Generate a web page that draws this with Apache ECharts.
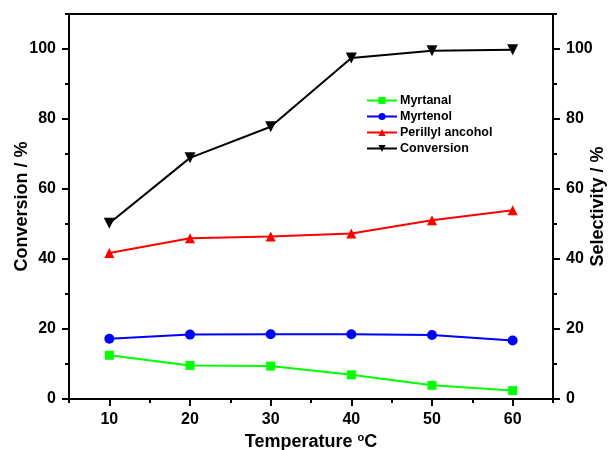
<!DOCTYPE html>
<html>
<head>
<meta charset="utf-8">
<script src="https://cdn.jsdelivr.net/npm/echarts@6/dist/echarts.min.js"></script>
<style>
  html, body { margin: 0; padding: 0; background: #fff; }
  #chart { width: 609px; height: 450px; }
</style>
</head>
<body>
<div id="chart"></div>
<script>
// Reaction temperature (°C)
const temperatures = [10, 20, 30, 40, 50, 60];
// Conversion (%)
const conversion = [50.2, 68.9, 77.8, 97.4, 99.5, 99.8];
// Product selectivities (%)
const myrtanal = [12.5, 9.6, 9.4, 6.9, 3.9, 2.4];
const myrtenol = [17.2, 18.4, 18.5, 18.5, 18.3, 16.7];
const perillylAlcohol = [41.7, 45.9, 46.4, 47.3, 51.1, 53.9];

const xMajorTicks = [10, 20, 30, 40, 50, 60];
const yMajorTicks = [0, 20, 40, 60, 80, 100];

const FONT = 'Liberation Sans, Arial, sans-serif';
const lineStyleAxis = { color: '#000', width: 2 };

function pairs(values) {
  return temperatures.map((t, i) => [t, values[i]]);
}

const chart = echarts.init(document.getElementById('chart'));

const minorX = {
  type: 'value', min: 5, max: 65, interval: 5, position: 'bottom', offset: 0,
  axisLine: { show: true, onZero: false, lineStyle: lineStyleAxis },
  axisTick: { show: true, length: 4, lineStyle: lineStyleAxis },
  axisLabel: { show: false },
  splitLine: { show: false }
};
const majorX = {
  type: 'value', min: 5, max: 65, interval: 5, position: 'bottom', offset: 0,
  axisLine: { show: false },
  axisTick: { show: true, length: 7, customValues: xMajorTicks, lineStyle: lineStyleAxis },
  axisLabel: {
    show: true, customValues: xMajorTicks, margin: 13,
    color: '#000', fontFamily: FONT, fontWeight: 'bold', fontSize: 16
  },
  splitLine: { show: false },
  name: '{t|Temperature }{s|o}{t|C}',
  nameLocation: 'middle', nameGap: 33, nameMoveOverlap: false,
  nameTextStyle: {
    rich: {
      t: { color: '#000', fontFamily: FONT, fontWeight: 'bold', fontSize: 18 },
      s: { color: '#000', fontFamily: FONT, fontWeight: 'bold', fontSize: 11, padding: [0, 0, 9, 0] }
    }
  }
};

function yMinor(pos) {
  return {
    type: 'value', min: 0, max: 110, interval: 10, position: pos, offset: 0,
    axisLine: { show: true, lineStyle: lineStyleAxis },
    axisTick: { show: true, length: 4, lineStyle: lineStyleAxis },
    axisLabel: { show: false },
    splitLine: { show: false }
  };
}
function yMajor(pos, title, gap) {
  return {
    type: 'value', min: 0, max: 110, interval: 10, position: pos, offset: 0,
    axisLine: { show: false },
    axisTick: { show: true, length: 7, customValues: yMajorTicks, lineStyle: lineStyleAxis },
    axisLabel: {
      show: true, customValues: yMajorTicks, margin: 13,
      color: '#000', fontFamily: FONT, fontWeight: 'bold', fontSize: 16
    },
    splitLine: { show: false },
    name: title, nameLocation: 'middle', nameRotate: 90, nameGap: gap, nameMoveOverlap: false,
    nameTextStyle: { color: '#000', fontFamily: FONT, fontWeight: 'bold', fontSize: 18 }
  };
}

function lineSeries(name, values, color, symbol, size, yIndex, rotate) {
  return {
    name, type: 'line', xAxisIndex: 0, yAxisIndex: yIndex,
    data: pairs(values),
    symbol, symbolSize: size, symbolRotate: rotate || 0,
    showAllSymbol: true,
    lineStyle: { color, width: 2 },
    itemStyle: { color, borderWidth: 0 },
    animation: false, z: 3
  };
}

chart.setOption({
  animation: false,
  backgroundColor: '#fff',
  grid: {
    left: 69, right: 56, top: 14, bottom: 51,
    outerBoundsMode: 'none',
    show: true, borderColor: '#000', borderWidth: 2, backgroundColor: 'transparent'
  },
  legend: {
    orient: 'vertical', left: 366, top: 94, padding: 0,
    itemWidth: 30, itemHeight: 9, itemGap: 3,
    textStyle: { color: '#000', fontFamily: FONT, fontWeight: 'bold', fontSize: 12.5, padding: [0, 0, 0, -2] },
    data: ['Myrtanal', 'Myrtenol', 'Perillyl ancohol', 'Conversion']
  },
  xAxis: [minorX, majorX],
  yAxis: [
    yMinor('left'),
    yMajor('left', 'Conversion / %', 38),
    yMinor('right'),
    yMajor('right', 'Selectivity / %', 36)
  ],
  series: [
    lineSeries('Myrtanal', myrtanal, '#00ff00', 'rect', 9, 3),
    lineSeries('Myrtenol', myrtenol, '#0000ff', 'circle', 10, 3),
    lineSeries('Perillyl ancohol', perillylAlcohol, '#ff0000', 'triangle', 10, 3),
    lineSeries('Conversion', conversion, '#000000', 'triangle', 11, 1, 180)
  ]
});
</script>
</body>
</html>
